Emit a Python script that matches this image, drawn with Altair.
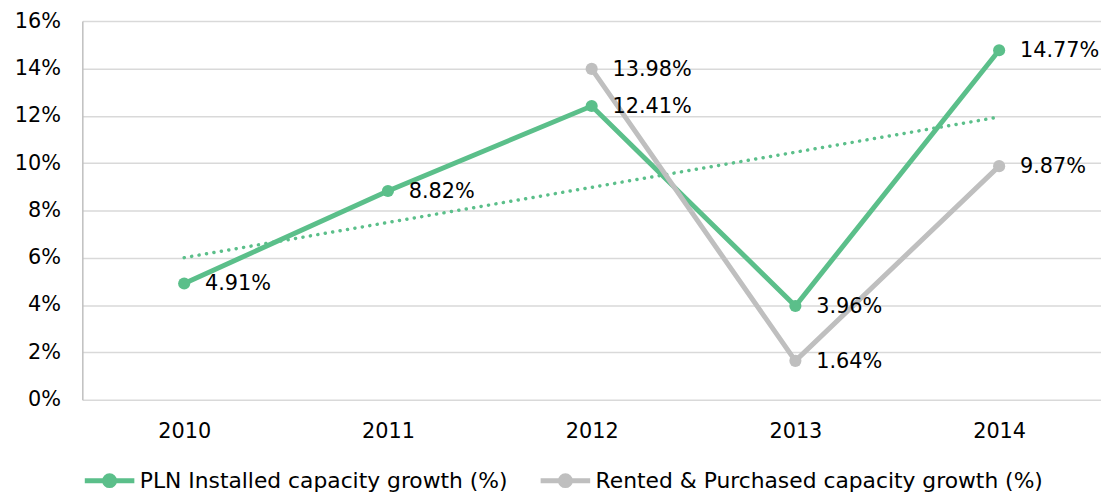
import altair as alt
import pandas as pd

years = [2010, 2011, 2012, 2013, 2014]
pln_growth = [4.91, 8.82, 12.41, 3.96, 14.77]
rented_years = [2012, 2013, 2014]
rented_growth = [13.98, 1.64, 9.87]
series_names = ["PLN Installed capacity growth (%)", "Rented & Purchased capacity growth (%)"]
colors = ["#5BBF8A", "#BFBFBF"]

rows = []
for y, v in zip(years, pln_growth):
    rows.append({"year": y, "value": v, "series": series_names[0]})
for y, v in zip(rented_years, rented_growth):
    rows.append({"year": y, "value": v, "series": series_names[1]})
df = pd.DataFrame(rows)
df["label"] = df["value"].map(lambda v: f"{v:.2f}%")

FONT = "DejaVu Sans"
FS = 21

x = alt.X("year:Q", scale=alt.Scale(domain=[2009.5, 2014.5], nice=False, zero=False),
          axis=alt.Axis(values=years, format="d", grid=False, domain=False, ticks=False,
                        labelFontSize=FS, labelPadding=21, labelColor="#000", labelFont=FONT, title=None))
y = alt.Y("value:Q", scale=alt.Scale(domain=[0, 16], nice=False),
          axis=alt.Axis(values=list(range(0, 17, 2)), labelExpr="datum.value + '%'",
                        grid=True, gridColor="#D9D9D9", gridWidth=1.5, domain=True, domainColor="#BFBFBF",
                        domainWidth=1.5, ticks=False, labelFontSize=FS, labelPadding=22, labelColor="#000",
                        labelFont=FONT, title=None))

legend_symbol = "M -1 0 L -0.2 0 M 0.2 0 L 1 0 M 0.2 0 A 0.2 0.2 0 1 1 -0.2 0 A 0.2 0.2 0 1 1 0.2 0 Z"
color = alt.Color("series:N", scale=alt.Scale(domain=series_names, range=colors),
                  legend=alt.Legend(orient="bottom", direction="horizontal", title=None,
                                    symbolType=legend_symbol, symbolSize=2500, symbolStrokeWidth=5,
                                    labelFontSize=22, labelFont=FONT, labelColor="#000",
                                    columnPadding=22, labelOffset=3, offset=12, labelLimit=700))

lines = alt.Chart(df).mark_line(strokeWidth=5, point=alt.OverlayMarkDef(size=150, filled=True, opacity=1)).encode(
    x=x, y=y, color=color, detail="series:N")

trend = alt.Chart(df).transform_filter(
    alt.datum.series == series_names[0]
).transform_regression("year", "value").mark_line(
    strokeDash=[0.1, 7.5], strokeCap="round", strokeWidth=3.5, color=colors[0]
).encode(x="year:Q", y="value:Q")

labels = alt.Chart(df).mark_text(align="left", baseline="middle", dx=21, dy=1, fontSize=FS,
                                 font=FONT, color="#000").encode(x=x, y=y, text="label:N")

chart = alt.layer(trend, lines, labels).properties(
    width=1028, height=382, padding={"top": 0, "left": 6, "right": 0, "bottom": 0}
).configure_view(stroke=None)

chart.save("out.html", embed_options={"renderer": "svg", "actions": False})
